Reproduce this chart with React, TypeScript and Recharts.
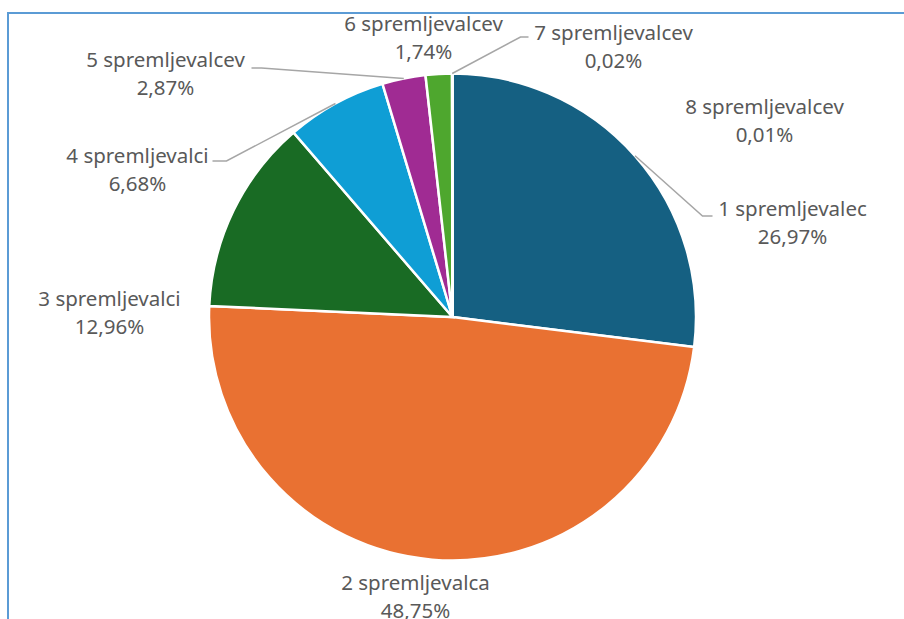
import React from "react";
import { PieChart, Pie, Cell } from "recharts";

const categories = [
  "1 spremljevalec",
  "2 spremljevalca",
  "3 spremljevalci",
  "4 spremljevalci",
  "5 spremljevalcev",
  "6 spremljevalcev",
  "7 spremljevalcev",
  "8 spremljevalcev",
];
const shares = [26.97, 48.75, 12.96, 6.68, 2.87, 1.74, 0.02, 0.01];
const percentLabels = ["26,97%", "48,75%", "12,96%", "6,68%", "2,87%", "1,74%", "0,02%", "0,01%"];

const colors = ["#156082", "#E97132", "#196B24", "#0F9ED5", "#A02B93", "#4EA72E", "#0D3A4F", "#8B3F17"];

// label block centre relative to pie centre, plus optional leader end / elbow x
const labelLayout = [
  { dx: 340, dy: -94, leader: { ex: 260, ey: -101, bx: 250 } },
  { dx: -37, dy: 280 },
  { dx: -343, dy: -4 },
  { dx: -315, dy: -147, leader: { ex: -240, ey: -156, bx: -226 } },
  { dx: -287, dy: -243, leader: { ex: -201, ey: -249, bx: -191 } },
  { dx: -29, dy: -279 },
  { dx: 161, dy: -270, leader: { ex: 76, ey: -280, bx: 68 } },
  { dx: 312, dy: -196 },
];

const data = categories.map((name, i) => ({ name, value: shares[i], pct: percentLabels[i] }));

const RADIAN = Math.PI / 180;
const FONT = "'Noto Sans', sans-serif";

const renderLabel = (props: any) => {
  const { cx, cy, midAngle, outerRadius, index } = props;
  const lay = labelLayout[index];
  const x = cx + lay.dx;
  const y = cy + lay.dy;
  let leader = null;
  if (lay.leader) {
    const sx = cx + outerRadius * Math.cos(-midAngle * RADIAN);
    const sy = cy + outerRadius * Math.sin(-midAngle * RADIAN);
    const ey = cy + lay.leader.ey;
    leader = (
      <polyline
        points={`${sx},${sy} ${cx + lay.leader.bx},${ey} ${cx + lay.leader.ex},${ey}`}
        fill="none"
        stroke="#A6A6A6"
        strokeWidth={1.5}
      />
    );
  }
  return (
    <g key={`lbl-${index}`}>
      {leader}
      <text
        x={x}
        y={y}
        textAnchor="middle"
        fill="#595959"
        fontSize={20.5}
        fontFamily={FONT}
      >
        <tspan x={x} dy={-7}>{data[index].name}</tspan>
        <tspan x={x} dy={27.5}>{data[index].pct}</tspan>
      </text>
    </g>
  );
};

export default function App() {
  return (
    <div style={{ position: "relative", width: 904, height: 619, background: "#fff", overflow: "hidden" }}>
      <style>{`body{margin:0;}`}</style>
      <div
        style={{
          position: "absolute",
          left: 7,
          top: 12,
          width: 920,
          height: 640,
          borderLeft: "2px solid #5B9BD5",
          borderTop: "2px solid #5B9BD5",
        }}
      />
      <div style={{ position: "absolute", left: 0, top: 0 }}>
        <PieChart width={904} height={619} margin={{ top: 0, right: 0, bottom: 0, left: 0 }}>
          <Pie
            data={data}
            dataKey="value"
            nameKey="name"
            cx={452.5}
            cy={317}
            outerRadius={243.5}
            startAngle={90}
            endAngle={-270}
            stroke="#FFFFFF"
            strokeWidth={2.5}
            label={renderLabel}
            labelLine={false}
            isAnimationActive={false}
          >
            {data.map((d, i) => (
              <Cell key={d.name} fill={colors[i]} />
            ))}
          </Pie>
        </PieChart>
      </div>
    </div>
  );
}
